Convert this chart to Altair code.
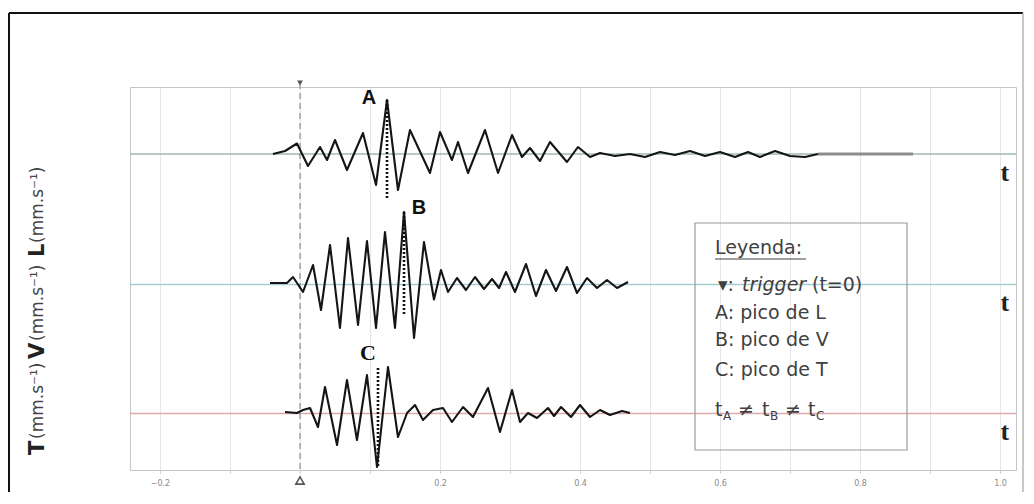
import altair as alt
import pandas as pd

# ---------------- data ----------------
channels = ["L", "V", "T"]
channel_offset = [2.61, 0.0, -2.58]          # vertical offset of each trace's zero line
baseline_color = ["#9fb9b9", "#a6cdcd", "#dcaaaa"]

# L (top trace): time (s) and amplitude
L_t = [-0.0386, -0.0214, -0.0043, 0.0114, 0.0286, 0.0386, 0.05, 0.0671, 0.09, 0.1086,
       0.1243, 0.14, 0.1571, 0.1857, 0.2, 0.2171, 0.2257, 0.24, 0.2643, 0.2829,
       0.3029, 0.3171, 0.3286, 0.3429, 0.3571, 0.3814, 0.3971, 0.4143, 0.4286, 0.45,
       0.4714, 0.4929, 0.5143, 0.5357, 0.5571, 0.5786, 0.6, 0.6214, 0.64, 0.6571,
       0.6786, 0.7, 0.7214, 0.74]
L_a = [0.0, 0.06, 0.21, -0.24, 0.14, -0.12, 0.28, -0.32, 0.42, -0.62,
       1.08, -0.72, 0.48, -0.38, 0.44, -0.12, 0.24, -0.38, 0.48, -0.38,
       0.38, -0.06, 0.12, -0.14, 0.24, -0.16, 0.14, -0.06, 0.02, -0.04,
       0.0, -0.06, 0.04, -0.02, 0.06, -0.04, 0.04, -0.06, 0.04, -0.06,
       0.06, -0.04, -0.06, 0.0]
L_tail_t = [0.74, 0.8757]
L_tail_a = [0.0, 0.0]

# V (middle trace)
V_t = [-0.0429, -0.0186, -0.01, 0.0043, 0.0186, 0.03, 0.0429, 0.0571, 0.0686, 0.0829,
       0.0957, 0.1086, 0.1214, 0.1357, 0.1486, 0.1629, 0.1771, 0.1914, 0.2014, 0.2114,
       0.2243, 0.2371, 0.25, 0.2629, 0.2743, 0.2843, 0.2943, 0.3071, 0.3229, 0.3371,
       0.3514, 0.3657, 0.3814, 0.3957, 0.41, 0.4243, 0.4386, 0.4529, 0.4686]
V_a = [0.03, 0.03, 0.15, -0.15, 0.39, -0.51, 0.79, -0.87, 0.93, -0.81,
       0.87, -0.87, 1.05, -0.87, 1.45, -1.07, 0.85, -0.30, 0.29, -0.15,
       0.13, -0.11, 0.15, -0.09, 0.11, -0.07, 0.25, -0.15, 0.41, -0.23,
       0.29, -0.13, 0.35, -0.17, 0.13, -0.07, 0.09, -0.07, 0.05]

# T (bottom trace)
T_t = [-0.0214, -0.0043, 0.0043, 0.0143, 0.0257, 0.0357, 0.0529, 0.0671, 0.0814, 0.0957,
       0.11, 0.1257, 0.14, 0.1529, 0.1643, 0.1757, 0.19, 0.2043, 0.2171, 0.2329,
       0.2471, 0.2686, 0.2857, 0.3029, 0.3143, 0.3257, 0.3386, 0.3543, 0.3629, 0.3729,
       0.3871, 0.4, 0.4143, 0.4286, 0.4429, 0.46, 0.4714]
T_a = [0.03, 0.01, 0.07, 0.11, -0.27, 0.53, -0.63, 0.67, -0.53, 0.77,
       -1.07, 0.93, -0.47, 0.01, 0.17, -0.13, 0.07, 0.11, -0.17, 0.13,
       -0.07, 0.51, -0.37, 0.47, -0.17, 0.01, -0.09, 0.11, -0.05, 0.13,
       -0.07, 0.17, -0.07, 0.07, -0.03, 0.05, 0.01]

# peaks (A, B, C)
peak_label = ["A", "B", "C"]
peak_t = [0.1243, 0.1486, 0.1114]
peak_top = [1.08, 1.45, 0.91]
peak_bottom = [-0.92, -0.61, -1.07]
label_t = [0.0986, 0.17, 0.0971]
label_a = [1.12, 1.53, 1.21]
label_font = ["Liberation Sans", "Liberation Sans", "Liberation Serif"]

trigger_t = [0.0]
x_ticks = [-0.2, -0.1, 0.0, 0.1, 0.2, 0.3, 0.4, 0.5, 0.6, 0.7, 0.8, 0.9, 1.0]

X_DOMAIN = [-0.242857, 1.022857]
Y_DOMAIN = [-3.71, 3.95]

# ---------------- tables ----------------
rows = []
for name, off, ts, am in [("L", channel_offset[0], L_t, L_a),
                          ("V", channel_offset[1], V_t, V_a),
                          ("T", channel_offset[2], T_t, T_a)]:
    for i, (t, a) in enumerate(zip(ts, am)):
        rows.append({"t": t, "y": off + a, "series": name, "order": i})
traces = pd.DataFrame(rows)
tail = pd.DataFrame({"t": L_tail_t, "y": [channel_offset[0] + a for a in L_tail_a],
                     "order": list(range(len(L_tail_t)))})

base_df = pd.DataFrame({"t": [X_DOMAIN[0]] * 3, "t2": [X_DOMAIN[1]] * 3,
                        "y": channel_offset, "series": channels, "col": baseline_color})
peaks_df = pd.DataFrame({"t": peak_t,
                         "y": [o + a for o, a in zip(channel_offset, peak_top)],
                         "y2": [o + a for o, a in zip(channel_offset, peak_bottom)]})
labels_df = pd.DataFrame({"t": label_t, "y": [o + a for o, a in zip(channel_offset, label_a)],
                          "label": peak_label, "font": label_font})
tlab_df = pd.DataFrame({"t": [1.007] * 3, "y": [o - 0.37 for o in channel_offset],
                        "label": ["t", "t", "t"]})

xs = alt.Scale(domain=X_DOMAIN, nice=False, zero=False)
ys = alt.Scale(domain=Y_DOMAIN, nice=False, zero=False)
xaxis = alt.Axis(values=x_ticks,
                 labelExpr="(abs(round(datum.value*10)) % 2 == 0 && round(datum.value*10) != 0) ? format(datum.value, '.1f') : ''",
                 labelFontSize=8, labelColor="#8a8a8a", labelFont="DejaVu Sans",
                 tickSize=3, tickColor="#c8c8c8", domain=False,
                 grid=True, gridColor="#e6e6e6", gridWidth=1, labelPadding=6, title=None)
X = alt.X("t:Q", scale=xs, axis=xaxis)
Y = alt.Y("y:Q", scale=ys, axis=None)

# baselines
baselines = alt.Chart(base_df).mark_rule(strokeWidth=1.3).encode(
    x=X, x2="t2:Q", y=Y, color=alt.Color("col:N", scale=None))

# trigger line and markers
trig_df = pd.DataFrame({"t": trigger_t, "y": [4.03], "y2": [Y_DOMAIN[0]]})
trigger = alt.Chart(trig_df).mark_rule(color="#7a7a7a", strokeWidth=1, strokeDash=[6, 4]).encode(
    x=X, y=Y, y2="y2:Q")
trig_top = alt.Chart(pd.DataFrame({"t": trigger_t, "y": [4.03]})).mark_point(
    shape="triangle-down", filled=True, color="#555", size=35, opacity=1).encode(x=X, y=Y)
trig_bot = alt.Chart(pd.DataFrame({"t": trigger_t, "y": [-3.92]})).mark_point(
    shape="triangle-up", filled=False, color="#555", size=70, strokeWidth=1.6, opacity=1).encode(x=X, y=Y)

lines = alt.Chart(traces).mark_line(color="#151515", strokeWidth=2.1, strokeJoin="round").encode(
    x=X, y=Y, detail="series:N", order="order:Q")
tail_line = alt.Chart(tail).mark_line(color="#8c8c8c", strokeWidth=3.2).encode(
    x=X, y=Y, order="order:Q")

peak_lines = alt.Chart(peaks_df).mark_rule(color="#111", strokeWidth=2.6, strokeDash=[2, 2]).encode(
    x=X, y=Y, y2="y2:Q")

peak_text_sans = alt.Chart(labels_df[labels_df.font == "Liberation Sans"]).mark_text(
    font="Liberation Sans", fontWeight="bold", fontSize=20, color="#111").encode(x=X, y=Y, text="label:N")
peak_text_serif = alt.Chart(labels_df[labels_df.font == "Liberation Serif"]).mark_text(
    font="Liberation Serif", fontWeight="bold", fontSize=22, color="#111").encode(x=X, y=Y, text="label:N")

t_text = alt.Chart(tlab_df).mark_text(font="Liberation Serif", fontWeight="bold", fontSize=26,
                                      color="#222").encode(x=X, y=Y, text="label:N")

# legend box
leg_box = alt.Chart(pd.DataFrame({"t": [0.5643], "t2": [0.8671], "y": [1.23], "y2": [-3.31]})).mark_rect(
    fillOpacity=0, stroke="#9a9a9a", strokeWidth=1.2).encode(x=X, x2="t2:Q", y=Y, y2="y2:Q")

leg_fs = 19
leg_rows = pd.DataFrame({
    "t": [0.5929, 0.5929, 0.5929, 0.5929],
    "y": [0.73, -0.57, -1.11, -1.71],
    "label": ["Leyenda:", "A: pico de L", "B: pico de V", "C: pico de T"]})
leg_text = alt.Chart(leg_rows).mark_text(align="left", baseline="middle", font="DejaVu Sans",
                                         fontSize=leg_fs, color="#404040").encode(x=X, y=Y, text="label:N")
leg_ul = alt.Chart(pd.DataFrame({"t": [0.5929], "t2": [0.7229], "y": [0.51]})).mark_rule(
    color="#404040", strokeWidth=1).encode(x=X, x2="t2:Q", y=Y)

trig_row = pd.DataFrame({"t": [0.5971, 0.6314, 0.7314], "y": [-0.01] * 3,
                         "label": ["▾:", "trigger", "(t=0)"], "style": ["normal", "italic", "normal"]})
trig_txt_n = alt.Chart(trig_row[trig_row["style"] == "normal"]).mark_text(
    align="left", baseline="middle", font="DejaVu Sans", fontSize=leg_fs, color="#404040").encode(
    x=X, y=Y, text="label:N")
trig_txt_i = alt.Chart(trig_row[trig_row["style"] == "italic"]).mark_text(
    align="left", baseline="middle", font="DejaVu Sans", fontStyle="italic", fontSize=leg_fs,
    color="#404040").encode(x=X, y=Y, text="label:N")

eq_main = pd.DataFrame({"t": [0.5929, 0.6257, 0.66, 0.6929, 0.7257], "y": [-2.51] * 5,
                        "label": ["t", "≠", "t", "≠", "t"]})
eq_sub = pd.DataFrame({"t": [0.6043, 0.6714, 0.7371], "y": [-2.62] * 3, "label": ["A", "B", "C"]})
eq_txt = alt.Chart(eq_main).mark_text(align="left", baseline="middle", font="DejaVu Sans",
                                      fontSize=leg_fs, color="#404040").encode(x=X, y=Y, text="label:N")
eq_sub_txt = alt.Chart(eq_sub).mark_text(align="left", baseline="middle", font="DejaVu Sans",
                                         fontSize=12, color="#404040").encode(x=X, y=Y, text="label:N")

# y-axis title pieces (rotated), bold channel letters + units
title_parts = [("T", True, 368), ("(mm.s⁻¹)", False, 352), ("V", True, 272),
               ("(mm.s⁻¹)", False, 254), ("L", True, 170), ("(mm.s⁻¹)", False, 156)]
title_layers = []
for txt, bold, ypix in title_parts:
    title_layers.append(
        alt.Chart(pd.DataFrame({"label": [txt]})).mark_text(
            angle=270, align="left", baseline="middle", font="DejaVu Sans",
            fontWeight="bold" if bold else "normal", fontSize=21 if bold else 17,
            color="#222" if bold else "#444").encode(
            x=alt.value(-92), y=alt.value(ypix), text="label:N"))

# outer frame
frame_df = pd.DataFrame({"k": [0]})
fr_top = alt.Chart(frame_df).mark_rule(color="#111", strokeWidth=2).encode(
    x=alt.value(-121), x2=alt.value(893), y=alt.value(-74), y2=alt.value(-74))
fr_left = alt.Chart(frame_df).mark_rule(color="#111", strokeWidth=2).encode(
    x=alt.value(-121), x2=alt.value(-121), y=alt.value(-74), y2=alt.value(406))
fr_right = alt.Chart(frame_df).mark_rule(color="#b5b5b5", strokeWidth=1.5).encode(
    x=alt.value(893), x2=alt.value(893), y=alt.value(-74), y2=alt.value(406))
fr_bot = alt.Chart(frame_df).mark_rule(color="#9a9a9a", strokeWidth=2).encode(
    x=alt.value(-121), x2=alt.value(893), y=alt.value(406), y2=alt.value(406))

chart = alt.layer(
    baselines, trigger, leg_box, tail_line, lines, peak_lines, trig_top, trig_bot,
    peak_text_sans, peak_text_serif, t_text, leg_text, leg_ul, trig_txt_n, trig_txt_i,
    eq_txt, eq_sub_txt, *title_layers, fr_top, fr_left, fr_right, fr_bot
).properties(
    width=886, height=383,
    autosize=alt.AutoSizeParams(type="none"),
    padding={"left": 122, "top": 79, "right": 8, "bottom": 22},
    background="white"
).configure_view(stroke="#c4c4c4", strokeWidth=1)

chart.save("out.html", embed_options={"renderer": "svg", "actions": False})
